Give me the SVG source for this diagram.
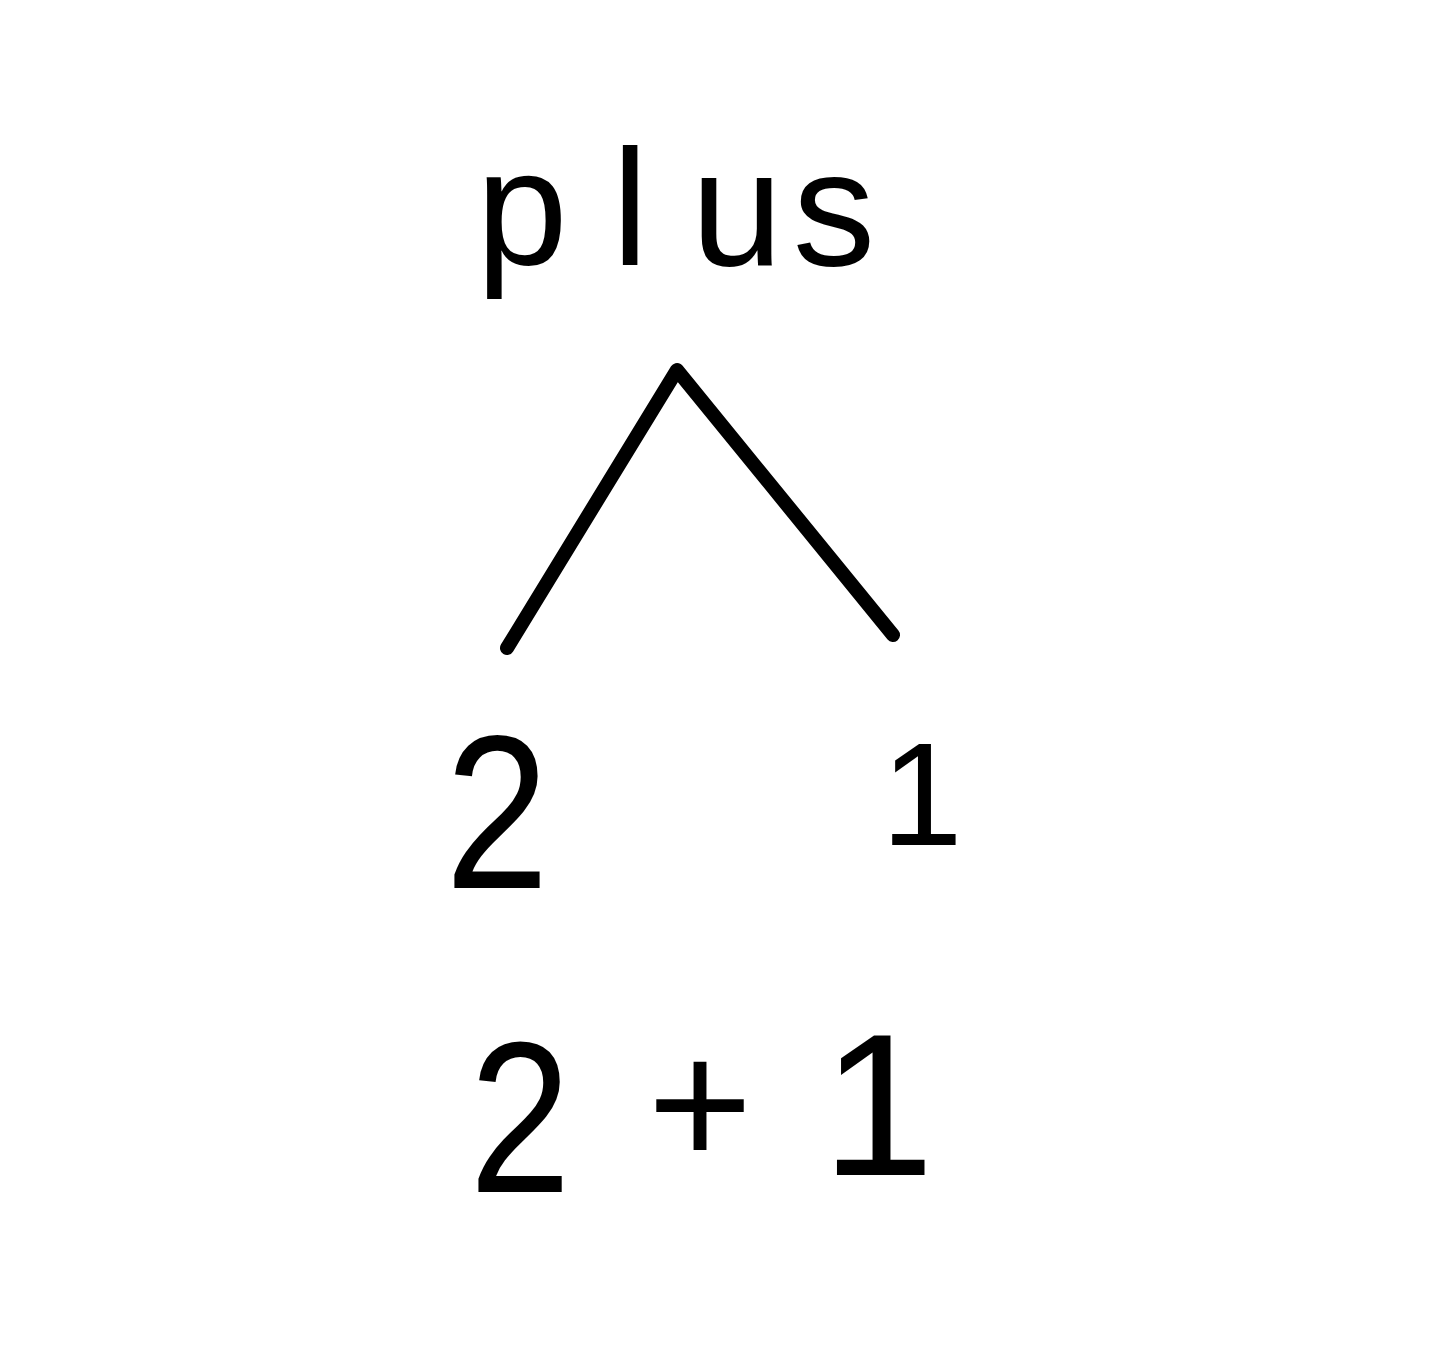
<svg xmlns="http://www.w3.org/2000/svg" width="1430" height="1346" viewBox="0 0 1430 1346">
<style>
.t{font-family:"Liberation Sans","DejaVu Sans",Arial,sans-serif;fill:#000;text-anchor:middle}
.c{stroke:#000;stroke-width:14;stroke-linecap:round;stroke-linejoin:round;fill:none}
</style>
<rect width="1430" height="1346" fill="#fff"/>
<g id="node-plus"><text class="t" font-size="165" x="522 630 737 834" y="265">plus</text></g>
<g id="connectors">
<polyline class="c" points="507,648 677,370 893,635"/>
</g>
<g id="node-2"><text class="t" font-size="220" transform="translate(497 888) scale(0.85 1)" x="0" y="0">2</text></g>
<g id="node-1"><text class="t" font-size="147" x="922" y="845">1</text></g>
<g id="node-expr">
<text class="t" font-size="215" transform="translate(520 1192) scale(0.85 1)" x="0" y="0">2</text>
<text class="t" font-size="180" x="700" y="1166">+</text>
<text class="t" font-size="203" x="878" y="1175">1</text>
</g>
</svg>
